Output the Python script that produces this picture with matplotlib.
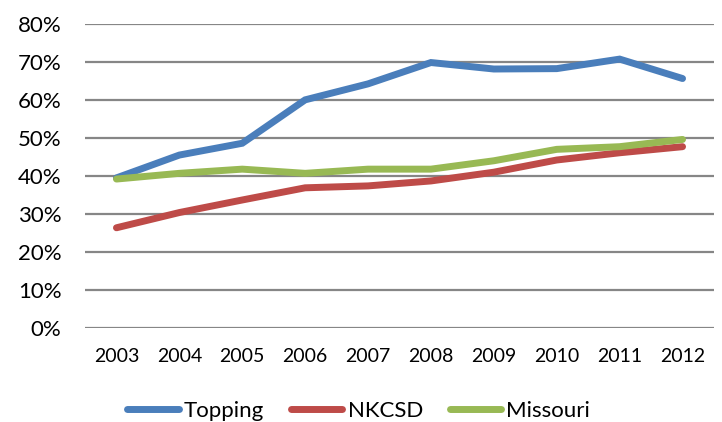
import matplotlib
matplotlib.use("Agg")
import matplotlib.pyplot as plt
from matplotlib.ticker import FuncFormatter

years = ["2003", "2004", "2005", "2006", "2007", "2008", "2009", "2010", "2011", "2012"]
topping = [39.5, 45.5, 48.6, 60.0, 64.2, 69.8, 68.1, 68.2, 70.7, 65.6]
nkcsd = [26.4, 30.4, 33.7, 36.9, 37.4, 38.7, 41.0, 44.2, 46.1, 47.7]
missouri = [39.2, 40.7, 41.8, 40.7, 41.8, 41.8, 44.0, 47.0, 47.7, 49.6]
series_names = ["Topping", "NKCSD", "Missouri"]
colors = ["#4A7EBB", "#BE4B48", "#98B954"]

plt.rcParams['font.family'] = ['Lato', 'DejaVu Sans']

fig = plt.figure(figsize=(7.22, 4.22), dpi=100)
ax = fig.add_axes([85/722, 1-328.3/422, (714-85)/722, (328.3-23.7)/422])

x = list(range(len(years)))
for vals, name, c in zip([topping, nkcsd, missouri], series_names, colors):
    ax.plot(x, vals, color=c, lw=5, label=name, solid_capstyle='round',
            solid_joinstyle='miter', zorder=3)

ax.set_xlim(-0.5, len(years) - 0.5)
ax.set_ylim(0, 80)
ax.set_yticks(range(0, 81, 10))
ax.yaxis.set_major_formatter(FuncFormatter(lambda v, p: f"{int(v)}%"))
ax.set_xticks(x)
ax.set_xticklabels(years)
ax.grid(axis='y', color='#868686', lw=1.6, zorder=1)
ax.set_axisbelow(True)
for s in ax.spines.values():
    s.set_visible(False)
ax.tick_params(axis='y', length=0, pad=17, labelsize=16, colors='black')
ax.tick_params(axis='x', length=0, pad=14, labelsize=14, colors='black')

fig.legend(loc='lower center', bbox_to_anchor=(0.497, -0.045), ncol=3, frameon=False,
           fontsize=16, handlelength=2.3, handletextpad=0.25, columnspacing=1.2)

fig.savefig("out.png", dpi=100)
